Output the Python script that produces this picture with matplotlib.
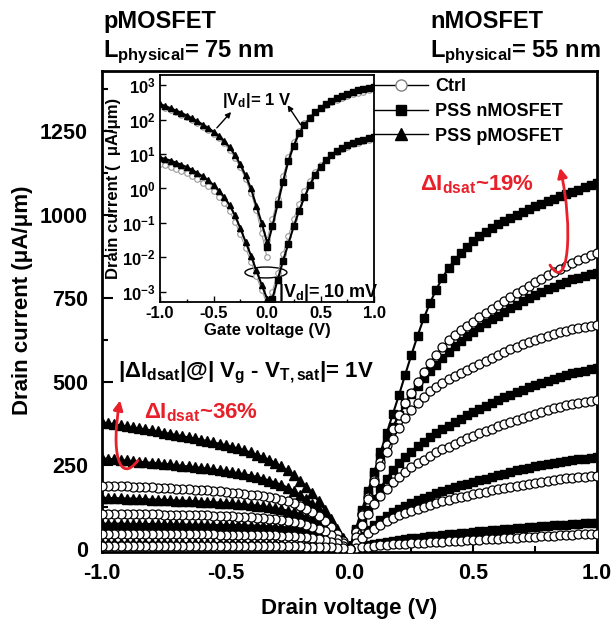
import numpy as np
import matplotlib
matplotlib.use('Agg')
import matplotlib.pyplot as plt
from matplotlib.path import Path
from matplotlib.patches import FancyArrowPatch, Ellipse
from matplotlib.lines import Line2D
from matplotlib.ticker import MultipleLocator, FormatStrFormatter, LogLocator, NullLocator

plt.rcParams['font.family'] = ['Liberation Sans', 'DejaVu Sans']
plt.rcParams['font.weight'] = 'bold'
plt.rcParams['axes.unicode_minus'] = False
plt.rcParams['mathtext.fontset'] = 'custom'
plt.rcParams['mathtext.rm'] = 'Liberation Sans:bold'
plt.rcParams['mathtext.it'] = 'Liberation Sans:bold'
plt.rcParams['mathtext.bf'] = 'Liberation Sans:bold'
plt.rcParams['mathtext.sf'] = 'Liberation Sans:bold'
plt.rcParams['mathtext.default'] = 'rm'

# ---------------- data ----------------
# Output curves: |Vd| sweep 0 ... 1 V in 0.025 V steps (41 points)
# nMOSFET output curves (uA/um), Vd = 0 ... 1 V
n_pss = [
    [0, 58, 115, 173, 230, 288, 345, 403, 460, 521, 580, 637, 690, 735, 775, 810, 840, 864, 885, 903,
     920, 935, 948, 960, 972, 981, 990, 999, 1008, 1017, 1025, 1033, 1040, 1048, 1055, 1062, 1068, 1075, 1082, 1089, 1095],
    [0, 55, 110, 165, 220, 273, 325, 365, 400, 433, 462, 487, 510, 531, 550, 570, 590, 607, 622, 637,
     650, 663, 675, 687, 698, 709, 720, 730, 740, 749, 758, 767, 776, 784, 792, 799, 806, 811, 816, 821, 825],
    [0, 42, 80, 116, 150, 181, 210, 234, 255, 273, 290, 306, 320, 333, 345, 357, 368, 378, 388, 399,
     410, 419, 428, 437, 445, 453, 460, 468, 475, 483, 490, 497, 503, 509, 515, 520, 525, 529, 533, 537, 540],
    [0, 20, 38, 56, 72, 86, 98, 110, 120, 129, 137, 145, 152, 159, 166, 172, 178, 184, 190, 195,
     200, 205, 210, 215, 220, 225, 230, 234, 238, 242, 246, 250, 253, 256, 259, 262, 265, 267, 269, 271, 273],
    [0, 4, 8, 12, 15, 18, 21, 24, 26, 29, 31, 33, 35, 37, 39, 41, 43, 45, 46, 48,
     50, 52, 53, 55, 56, 58, 59, 61, 62, 64, 65, 67, 68, 70, 71, 72, 73, 75, 76, 77, 78],
]
n_ctrl = [
    [0, 53, 105, 155, 205, 258, 310, 357, 400, 435, 465, 498, 530, 556, 580, 604, 625, 641, 655, 668,
     680, 693, 705, 717, 728, 740, 752, 764, 775, 786, 797, 808, 818, 828, 838, 847, 855, 863, 870, 878, 885],
    [0, 50, 100, 150, 200, 247, 290, 327, 360, 390, 415, 436, 455, 471, 485, 497, 508, 518, 527, 536,
     545, 554, 562, 571, 580, 589, 598, 605, 612, 619, 625, 632, 638, 643, 648, 653, 657, 660, 663, 666, 669],
    [0, 36, 70, 104, 135, 159, 180, 199, 215, 230, 243, 255, 265, 278, 290, 298, 305, 314, 322, 330,
     338, 345, 352, 359, 366, 373, 380, 386, 392, 398, 404, 410, 415, 420, 425, 429, 433, 436, 439, 442, 444],
    [0, 17, 32, 47, 60, 72, 82, 92, 100, 107, 114, 120, 126, 132, 137, 142, 146, 151, 155, 159,
     163, 167, 171, 175, 178, 182, 185, 188, 191, 194, 197, 200, 203, 206, 208, 211, 213, 215, 216, 218, 219],
    [0, 2, 4, 6, 8, 10, 11, 13, 14, 15, 16, 17, 18, 19, 20, 21, 22, 23, 24, 25,
     26, 27, 28, 29, 30, 31, 32, 33, 34, 35, 36, 37, 38, 39, 40, 41, 42, 43, 43, 44, 45],
]
# pMOSFET output curves (|Id|, uA/um) for |Vd| = 0 ... 1 V (plotted at Vd = -|Vd|)
p_pss = [
    [0, 31, 60, 89, 117, 142, 166, 186, 204, 220, 234, 246, 257, 266, 274, 281, 288, 294, 300, 305,
     310, 314, 318, 322, 326, 330, 333, 337, 340, 344, 347, 351, 354, 357, 360, 363, 366, 369, 372, 375, 378],
    [0, 28, 54, 78, 100, 119, 135, 149, 162, 173, 183, 191, 198, 204, 210, 215, 219, 223, 226, 229,
     232, 235, 237, 240, 242, 244, 246, 248, 250, 252, 254, 256, 257, 259, 260, 262, 264, 266, 267, 269, 270],
    [0, 19, 36, 53, 67, 78, 88, 96, 103, 109, 114, 118, 121, 124, 127, 129, 131, 133, 134, 136,
     137, 138, 139, 140, 141, 142, 143, 144, 144, 145, 146, 147, 147, 148, 149, 150, 150, 151, 151, 152, 152],
    [0, 14, 26, 36, 44, 50, 54, 57, 60, 62, 64, 65, 66, 67, 68, 69, 69, 70, 70, 71,
     71, 71, 71, 72, 72, 72, 72, 73, 73, 73, 73, 74, 74, 74, 74, 74, 74, 75, 75, 75, 75],
    [0, 3, 6, 8, 10, 12, 13, 14, 14, 15, 15, 16, 16, 16, 16, 17, 17, 17, 17, 17,
     17, 17, 17, 17, 17, 17, 17, 17, 17, 18, 18, 18, 18, 18, 18, 18, 18, 18, 18, 18, 18],
]
p_ctrl = [
    [0, 23, 45, 65, 83, 97, 110, 120, 129, 136, 142, 147, 151, 154, 157, 160, 162, 164, 166, 168,
     170, 172, 173, 175, 176, 177, 178, 179, 180, 181, 182, 183, 184, 185, 185, 186, 187, 188, 188, 189, 189],
    [0, 16, 30, 42, 52, 60, 66, 71, 76, 80, 83, 86, 88, 90, 91, 93, 94, 95, 96, 97,
     98, 99, 99, 100, 100, 101, 101, 102, 102, 102, 102, 103, 103, 103, 103, 104, 104, 104, 104, 105, 105],
    [0, 8, 16, 21, 26, 29, 32, 34, 36, 37, 38, 39, 40, 40, 41, 41, 41, 42, 42, 42,
     42, 42, 43, 43, 43, 43, 43, 44, 44, 44, 44, 44, 44, 44, 44, 45, 45, 45, 45, 45, 45],
    [0, 2, 3, 4, 5, 5, 6, 6, 7, 7, 7, 7, 7, 7, 7, 7, 8, 8, 8, 8,
     8, 8, 8, 8, 8, 8, 8, 8, 8, 8, 8, 8, 8, 8, 8, 8, 8, 8, 8, 8, 8],
]

# Inset transfer curves, log10(Id [uA/um]), Vg in 0.05 V steps
vg_p = np.linspace(-1, 0, 21)
vg_n = np.linspace(0, 1, 21)
p_1V = [2.45, 2.40, 2.33, 2.26, 2.20, 2.12, 2.04, 1.95, 1.86, 1.76, 1.65, 1.53, 1.38, 1.20, 0.98, 0.70, 0.38, 0.00, -0.50, -1.00, -1.55]
p_1V_ctrl = [2.40, 2.35, 2.29, 2.22, 2.15, 2.07, 1.99, 1.90, 1.80, 1.70, 1.59, 1.46, 1.31, 1.12, 0.90, 0.62, 0.28, -0.12, -0.62, -1.30, -2.00]
p_10mV = [0.90, 0.86, 0.81, 0.75, 0.69, 0.62, 0.54, 0.45, 0.35, 0.24, 0.10, -0.06, -0.25, -0.48, -0.78, -1.15, -1.55, -1.95, -2.38, -2.80, -3.20]
p_10mV_ctrl = [0.72, 0.68, 0.63, 0.57, 0.51, 0.44, 0.36, 0.27, 0.17, 0.06, -0.08, -0.24, -0.43, -0.66, -0.96, -1.33, -1.73, -2.13, -2.55, -2.95, -3.35]
n_1V = [-1.70, -1.10, -0.45, 0.20, 0.80, 1.25, 1.60, 1.85, 2.05, 2.21, 2.35, 2.46, 2.55, 2.63, 2.70, 2.76, 2.81, 2.86, 2.90, 2.93, 2.96]
n_1V_ctrl = [-1.50, -0.90, -0.30, 0.35, 0.92, 1.35, 1.66, 1.89, 2.07, 2.21, 2.33, 2.43, 2.51, 2.58, 2.64, 2.69, 2.74, 2.78, 2.82, 2.85, 2.88]
n_10mV = [-3.70, -3.20, -2.65, -2.10, -1.60, -1.10, -0.65, -0.25, 0.10, 0.40, 0.63, 0.82, 0.97, 1.09, 1.18, 1.26, 1.32, 1.37, 1.42, 1.46, 1.49]
n_10mV_ctrl = [-3.50, -3.00, -2.45, -1.90, -1.38, -0.88, -0.45, -0.08, 0.22, 0.48, 0.68, 0.84, 0.97, 1.07, 1.15, 1.22, 1.28, 1.33, 1.37, 1.40, 1.43]

legend_labels = ['Ctrl', 'PSS nMOSFET', 'PSS pMOSFET']

RED = '#e8202a'

# ---------------- figure ----------------
fig = plt.figure(figsize=(6.14, 6.20), dpi=100)
W, H = 614, 620
ax = fig.add_axes([102 / W, 1 - 552 / H, 495 / W, (552 - 71) / H])


def vgrid(ys):
    return np.linspace(0, 1, len(ys))


for ys in n_pss:
    ax.plot(vgrid(ys), ys, '-', color='k', lw=1.5, marker='s', ms=6, mfc='k', mec='k', zorder=3)
for ys in p_pss:
    ax.plot(-vgrid(ys), ys, '-', color='k', lw=1.5, marker='^', ms=7, mfc='k', mec='k', zorder=3)
for ys in n_ctrl:
    ax.plot(vgrid(ys), ys, '-', color='k', lw=1.0, marker='o', ms=6.5, mfc='white', mec='k', mew=0.9, zorder=4)
for ys in p_ctrl:
    ax.plot(-vgrid(ys), ys, '-', color='k', lw=1.0, marker='o', ms=6.5, mfc='white', mec='k', mew=0.9, zorder=4)

ax.set_xlim(-1, 1)
ax.set_ylim(-10, 1430)
ax.xaxis.set_major_locator(MultipleLocator(0.5))
ax.xaxis.set_minor_locator(MultipleLocator(0.25))
ax.xaxis.set_major_formatter(FormatStrFormatter('%.1f'))
ax.yaxis.set_major_locator(MultipleLocator(250))
ax.yaxis.set_minor_locator(MultipleLocator(125))
ax.tick_params(which='both', direction='in', width=1.5, labelsize=15.5)
ax.tick_params(which='major', length=8)
ax.tick_params(which='minor', length=4)
ax.tick_params(axis='y', pad=10)
ax.tick_params(axis='x', pad=8)
for s in ax.spines.values():
    s.set_linewidth(2)
ax.set_xlabel('Drain voltage (V)', fontsize=16, fontweight='bold')
ax.xaxis.set_label_coords(0.5, -0.095)
ax.set_ylabel('Drain current (μA/μm)', fontsize=16, fontweight='bold')
ax.yaxis.set_label_coords(-0.14, 0.524)

# annotations main
ax.text(-0.935, 514, '|ΔI$_{dsat}$|@| V$_g$ - V$_{T,sat}$|= 1V', fontsize=16, fontweight='bold',
        ha='left', va='baseline', zorder=6)
ax.text(-0.83, 391, 'ΔI$_{dsat}$~36%', fontsize=16, fontweight='bold', color=RED,
        ha='left', va='baseline', zorder=6)
ax.text(0.285, 1074, 'ΔI$_{dsat}$~19%', fontsize=16, fontweight='bold', color=RED,
        ha='left', va='baseline', zorder=6)

path_l = Path([(-0.855, 264), (-0.93, 190), (-0.965, 290), (-0.927, 444)],
              [Path.MOVETO, Path.CURVE4, Path.CURVE4, Path.CURVE4])
ax.add_patch(FancyArrowPatch(path=path_l, arrowstyle='-|>', mutation_scale=14, color=RED, lw=2, zorder=7))
path_r = Path([(0.810, 849), (0.885, 760), (0.905, 960), (0.851, 1140)],
              [Path.MOVETO, Path.CURVE4, Path.CURVE4, Path.CURVE4])
ax.add_patch(FancyArrowPatch(path=path_r, arrowstyle='-|>', mutation_scale=14, color=RED, lw=2, zorder=7))

# headers
fig.text(103 / W, 1 - 28 / H, 'pMOSFET', fontsize=17, fontweight='bold', va='baseline')
fig.text(103 / W, 1 - 57 / H, 'L$_{physical}$= 75 nm', fontsize=17, fontweight='bold', va='baseline')
fig.text(430 / W, 1 - 28 / H, 'nMOSFET', fontsize=17, fontweight='bold', va='baseline')
fig.text(430 / W, 1 - 57 / H, 'L$_{physical}$= 55 nm', fontsize=17, fontweight='bold', va='baseline')

# ---------------- inset ----------------
ai = fig.add_axes([160 / W, 1 - 302 / H, 214 / W, 227 / H])
ai.set_yscale('log')
gray = '0.6'
for xs, ys in [(vg_p, p_1V_ctrl), (vg_p, p_10mV_ctrl), (vg_n, n_1V_ctrl), (vg_n, n_10mV_ctrl)]:
    ai.plot(xs, 10 ** np.array(ys), '-', color=gray, lw=0.8, marker='o', ms=4, mfc='white', mec=gray, mew=0.8)
for ys in [p_1V, p_10mV]:
    ai.plot(vg_p, 10 ** np.array(ys), '-', color='k', lw=1.5, marker='^', ms=5, mfc='k', mec='k')
for ys in [n_1V, n_10mV]:
    ai.plot(vg_n, 10 ** np.array(ys), '-', color='k', lw=1.5, marker='s', ms=4.5, mfc='k', mec='k')
ai.set_xlim(-1, 1)
ai.set_ylim(10 ** -3.3, 10 ** 3.3)
ai.xaxis.set_major_locator(MultipleLocator(0.5))
ai.xaxis.set_minor_locator(MultipleLocator(0.25))
ai.xaxis.set_major_formatter(FormatStrFormatter('%.1f'))
ai.yaxis.set_major_locator(LogLocator(base=10, numticks=20))
ai.yaxis.set_minor_locator(NullLocator())
ai.tick_params(which='both', direction='in', width=1, labelsize=12, pad=3)
ai.tick_params(which='major', length=4)
ai.tick_params(which='minor', length=2)
for s in ai.spines.values():
    s.set_linewidth(1.3)
ai.set_xlabel('Gate voltage (V)', fontsize=12, fontweight='bold', labelpad=1)
ai.set_ylabel('Drain current (  μA/μm)', fontsize=12, fontweight='bold', labelpad=1)

ai.text(0.29, 0.868, '|V$_d$|= 1 V', transform=ai.transAxes, fontsize=12, fontweight='bold', va='baseline')
ai.text(0.551, 0.022, '|V$_d$|= 10 mV', transform=ai.transAxes, fontsize=13, fontweight='bold', va='baseline')
ai.annotate('', xy=(0.341, 0.846), xytext=(0.257, 0.758), xycoords='axes fraction',
            arrowprops=dict(arrowstyle='-|>', color='k', lw=1, mutation_scale=8))
ai.annotate('', xy=(0.589, 0.877), xytext=(0.664, 0.771), xycoords='axes fraction',
            arrowprops=dict(arrowstyle='-|>', color='k', lw=1, mutation_scale=8))
ai.add_patch(Ellipse((0.495, 0.13), 0.196, 0.048, transform=ai.transAxes, fill=False, ec='k', lw=1))

handles = [
    Line2D([], [], color='k', lw=1, marker='o', ms=8, mfc='white', mec='0.5'),
    Line2D([], [], color='k', lw=1, marker='s', ms=7, mfc='k', mec='k'),
    Line2D([], [], color='k', lw=1, marker='^', ms=9, mfc='k', mec='k'),
]
ai.legend(handles, legend_labels, loc='upper left', bbox_to_anchor=(1.0, 0.985), frameon=False,
          borderpad=0, borderaxespad=0, handlelength=3.0, handletextpad=0.4, labelspacing=0.42,
          prop={'weight': 'bold', 'size': 13})

fig.savefig('out.png', dpi=100)
